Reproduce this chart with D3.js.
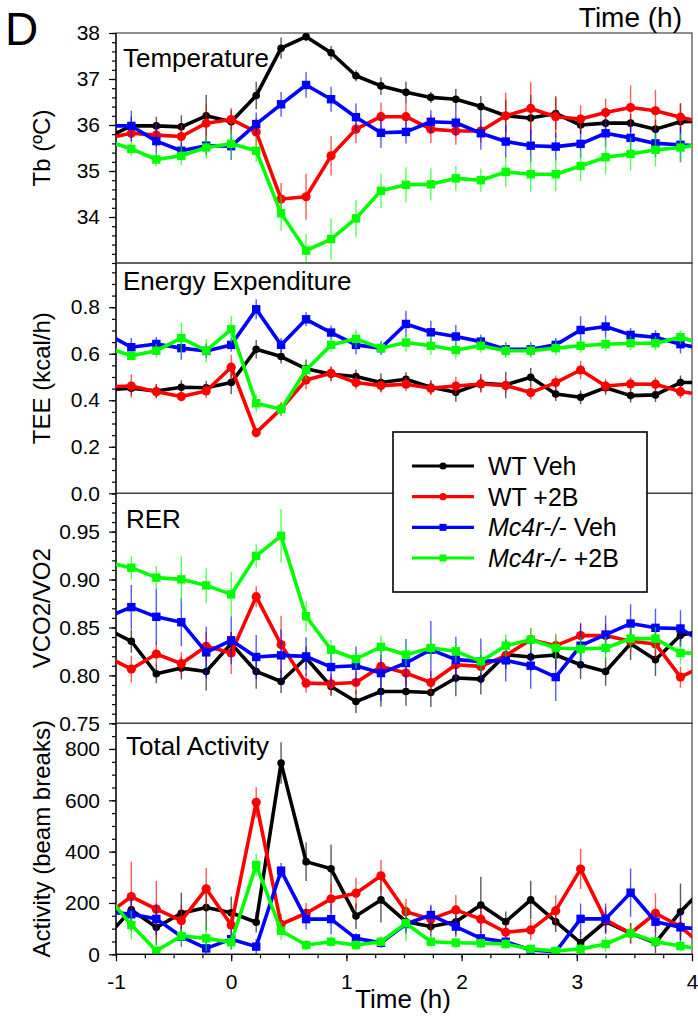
<!DOCTYPE html>
<html>
<head>
<meta charset="utf-8">
<title>Panel D</title>
<script src="https://d3js.org/d3.v7.min.js"></script>
<style>
  body { margin: 0; background: #fff; }
  text { font-family: Arial, "Liberation Sans", sans-serif; fill: #000; }
  .frame { fill: none; stroke: #444; stroke-width: 1.2; }
  .axis path { display: none; }
  .axis line { stroke: #000; stroke-width: 1.2; }
</style>
</head>
<body>
<div id="chart"></div>
<script>

// time bins (h), 13 min apart; first and last fall just outside the axis
var time = [-1.083, -0.867, -0.65, -0.433, -0.217, 0, 0.217, 0.433, 0.65, 0.867, 1.083, 1.3, 1.517,
            1.733, 1.95, 2.167, 2.383, 2.6, 2.817, 3.033, 3.25, 3.467, 3.683, 3.9, 4.117];

var groups = ["WT Veh", "WT +2B", "Mc4r-/- Veh", "Mc4r-/- +2B"];
var xTicks = [-1, 0, 1, 2, 3, 4];

// Temperature (ºC)
var tempWTVeh = [35.72, 35.98, 35.98, 35.96, 36.2, 36.07, 36.64, 37.67, 37.92, 37.57, 37.07, 36.85, 36.71,
                 36.6, 36.56, 36.4, 36.2, 36.15, 36.25, 36.0, 36.04, 36.04, 35.91, 36.07, 36.09];
var tempWT2B = [35.71, 35.82, 35.78, 35.75, 36.04, 36.12, 35.85, 34.39, 34.44, 35.33, 35.91, 36.18, 36.18,
                35.91, 35.87, 35.87, 36.2, 36.36, 36.18, 36.13, 36.27, 36.38, 36.31, 36.17, 36.04];
var tempMcVeh = [35.98, 35.98, 35.65, 35.44, 35.55, 35.54, 36.02, 36.45, 36.87, 36.56, 36.17, 35.83, 35.85,
                 36.07, 36.05, 35.82, 35.64, 35.55, 35.53, 35.59, 35.82, 35.72, 35.6, 35.57, 35.53];
var tempMc2B = [35.66, 35.48, 35.25, 35.33, 35.51, 35.59, 35.44, 34.08, 33.27, 33.52, 33.97, 34.57, 34.7,
                34.71, 34.84, 34.8, 34.98, 34.93, 34.93, 35.11, 35.3, 35.37, 35.46, 35.51, 35.6];
var tempWTVehErr = [0, 0.2, 0.2, 0.25, 0.45, 0.25, 0.3, 0.23, 0.1, 0.15, 0.12, 0.19, 0.23,
                    0.12, 0.22, 0.23, 0.35, 0.5, 0.35, 0.2, 0.2, 0.2, 0.2, 0.4, 0];
var tempWT2BErr = [0, 0.2, 0.25, 0.25, 0.4, 0.25, 0.3, 0.35, 0.5, 0.43, 0.3, 0.31, 0.3,
                   0.3, 0.3, 0.25, 0.5, 0.57, 0.45, 0.3, 0.3, 0.48, 0.45, 0.3, 0];
var tempMcVehErr = [0, 0.33, 0.35, 0.2, 0.2, 0.3, 0.25, 0.27, 0.28, 0.27, 0.3, 0.33, 0.25,
                    0.25, 0.3, 0.36, 0.35, 0.35, 0.3, 0.3, 0.3, 0.3, 0.3, 0.38, 0];
var tempMc2BErr = [0, 0.15, 0.15, 0.2, 0.25, 0.3, 0.25, 0.38, 0.36, 0.45, 0.4, 0.37, 0.38,
                   0.35, 0.27, 0.25, 0.33, 0.38, 0.37, 0.33, 0.37, 0.36, 0.36, 0.3, 0];

// Energy expenditure (kcal/h)
var teeWTVeh = [0.444, 0.452, 0.44, 0.456, 0.454, 0.476, 0.619, 0.588, 0.535, 0.512, 0.502, 0.476, 0.49,
                0.456, 0.434, 0.473, 0.466, 0.499, 0.427, 0.413, 0.454, 0.42, 0.423, 0.476, 0.476];
var teeWT2B = [0.458, 0.461, 0.437, 0.416, 0.44, 0.542, 0.261, 0.363, 0.487, 0.516, 0.476, 0.463, 0.469,
               0.452, 0.461, 0.47, 0.463, 0.433, 0.476, 0.53, 0.461, 0.47, 0.469, 0.437, 0.422];
var teeMcVeh = [0.686, 0.628, 0.642, 0.624, 0.612, 0.638, 0.791, 0.638, 0.748, 0.691, 0.638, 0.624, 0.728,
                0.692, 0.674, 0.652, 0.619, 0.619, 0.638, 0.702, 0.717, 0.681, 0.671, 0.641, 0.619];
var teeMc2B = [0.627, 0.591, 0.613, 0.667, 0.613, 0.705, 0.387, 0.361, 0.53, 0.638, 0.664, 0.624, 0.648,
               0.634, 0.616, 0.634, 0.613, 0.613, 0.624, 0.634, 0.641, 0.645, 0.645, 0.671, 0.638];
var teeWTVehErr = [0, 0.03, 0.03, 0.03, 0.03, 0.05, 0.04, 0.03, 0.04, 0.03, 0.03, 0.04, 0.03,
                   0.03, 0.04, 0.04, 0.057, 0.04, 0.03, 0.03, 0.03, 0.03, 0.03, 0.03, 0];
var teeWT2BErr = [0, 0.05, 0.03, 0.02, 0.03, 0.054, 0.02, 0.03, 0.04, 0.03, 0.03, 0.03, 0.03,
                  0.03, 0.04, 0.03, 0.03, 0.03, 0.03, 0.04, 0.03, 0.03, 0.03, 0.03, 0];
var teeMcVehErr = [0, 0.04, 0.03, 0.05, 0.03, 0.03, 0.043, 0.03, 0.03, 0.03, 0.04, 0.03, 0.057,
                   0.05, 0.05, 0.03, 0.03, 0.03, 0.03, 0.059, 0.047, 0.03, 0.03, 0.04, 0];
var teeMc2BErr = [0, 0.02, 0.03, 0.068, 0.05, 0.057, 0.04, 0.03, 0.04, 0.03, 0.04, 0.03, 0.04,
                  0.04, 0.04, 0.03, 0.03, 0.03, 0.03, 0.03, 0.03, 0.03, 0.03, 0.03, 0];

// RER (VCO2/VO2)
var rerWTVeh = [0.8486, 0.8356, 0.8017, 0.8076, 0.8041, 0.8331, 0.8041, 0.7936, 0.8181, 0.7884, 0.7727, 0.7832, 0.7832,
                0.7821, 0.7972, 0.7961, 0.8216, 0.8192, 0.8213, 0.8111, 0.8041, 0.8331, 0.8164, 0.8418, 0.8472];
var rerWT2B = [0.8196, 0.8066, 0.8223, 0.8122, 0.8303, 0.8234, 0.8821, 0.8321, 0.7919, 0.7912, 0.7926, 0.8094, 0.8024,
               0.7926, 0.8111, 0.8094, 0.8206, 0.8373, 0.831, 0.8415, 0.8415, 0.8356, 0.8328, 0.7982, 0.811];
var rerMcVeh = [0.8605, 0.8712, 0.8611, 0.8555, 0.824, 0.8366, 0.8192, 0.8209, 0.8198, 0.8087, 0.8101, 0.8024, 0.8129,
                0.8268, 0.8164, 0.8146, 0.8157, 0.8101, 0.7982, 0.831, 0.8426, 0.8541, 0.8496, 0.8489, 0.8329];
var rerMc2B = [0.918, 0.9124, 0.902, 0.9002, 0.8939, 0.8845, 0.9247, 0.9456, 0.8617, 0.8268, 0.8171, 0.8297, 0.8216,
               0.8286, 0.8251, 0.8146, 0.831, 0.8373, 0.8286, 0.8276, 0.8286, 0.8384, 0.8384, 0.8234, 0.8234];
var rerWTVehErr = [0, 0.012, 0.01, 0.012, 0.02, 0.012, 0.018, 0.012, 0.012, 0.01, 0.012, 0.016, 0.015,
                   0.015, 0.019, 0.016, 0.015, 0.015, 0.015, 0.015, 0.015, 0.017, 0.017, 0.012, 0];
var rerWT2BErr = [0, 0.014, 0.012, 0.012, 0.015, 0.022, 0.011, 0.03, 0.01, 0.01, 0.012, 0.012, 0.012,
                  0.012, 0.015, 0.012, 0.012, 0.012, 0.012, 0.012, 0.012, 0.012, 0.015, 0.011, 0];
var rerMcVehErr = [0, 0.023, 0.029, 0.025, 0.027, 0.025, 0.023, 0.027, 0.02, 0.02, 0.02, 0.029, 0.025,
                   0.03, 0.024, 0.024, 0.022, 0.024, 0.025, 0.024, 0.02, 0.02, 0.02, 0.019, 0];
var rerMc2BErr = [0, 0.012, 0.012, 0.024, 0.018, 0.023, 0.012, 0.028, 0.016, 0.01, 0.01, 0.012, 0.012,
                  0.012, 0.012, 0.012, 0.012, 0.012, 0.012, 0.012, 0.012, 0.012, 0.012, 0.012, 0];

// Total activity (beam breaks)
var actWTVeh = [67, 173, 105, 160, 182, 162, 125, 745, 361, 333, 149, 212, 127,
                108, 127, 192, 127, 212, 127, 45, 127, 82, 45, 166, 266];
var actWT2B = [152, 225, 176, 131, 255, 114, 592, 117, 160, 216, 238, 306, 166,
               137, 173, 137, 86, 95, 170, 332, 134, 82, 160, 108, 23];
var actMcVeh = [166, 156, 138, 69, 23, 59, 30, 326, 137, 137, 62, 45, 118,
                153, 108, 62, 49, 17, 10, 138, 138, 240, 127, 105, 96];
var actMc2B = [231, 114, 14, 71, 62, 47, 348, 92, 36, 49, 36, 49, 121,
               49, 45, 43, 40, 21, 13, 21, 40, 82, 49, 32, 19];
var actWTVehErr = [0, 60, 70, 80, 90, 63, 40, 81, 75, 94, 50, 88, 40,
                   40, 50, 110, 40, 75, 40, 40, 40, 40, 40, 110, 0];
var actWT2BErr = [0, 137, 110, 60, 81, 50, 59, 40, 40, 58, 60, 62, 50,
                  50, 58, 40, 30, 40, 60, 78, 50, 40, 78, 40, 0];
var actMcVehErr = [0, 60, 60, 40, 30, 40, 30, 30, 40, 60, 20, 20, 40,
                   40, 40, 30, 20, 20, 15, 60, 60, 94, 40, 60, 0];
var actMc2BErr = [0, 55, 40, 30, 50, 30, 45, 35, 20, 20, 20, 20, 70,
                  20, 20, 20, 20, 15, 15, 20, 30, 25, 20, 20, 0];

var colors = ["#000000", "#ff0000", "#0000ff", "#00ff00"];
var shapes = ["circle", "circle", "square", "square"];
var markerR = [3.8, 4.6, 4.2, 4.2];

var W = 698, H = 1018;
var left = 116, right = 692;

var svg = d3.select("#chart").append("svg")
    .attr("width", W)
    .attr("height", H);

var x = d3.scaleLinear().domain([-1, 4]).range([left, right]);

var panels = [
    { title: "Temperature", titleX: 123, titleY: 67, label: "Tb (ºC)", top: 33, bottom: 263,
      domain: [33, 38], major: [34, 35, 36, 37, 38], minorStep: 0.2, fmt: d3.format("d"),
      series: [tempWTVeh, tempWT2B, tempMcVeh, tempMc2B],
      errs: [tempWTVehErr, tempWT2BErr, tempMcVehErr, tempMc2BErr] },
    { title: "Energy Expenditure", titleX: 123, titleY: 290, label: "TEE (kcal/h)", top: 263, bottom: 493.3,
      domain: [0, 0.99], major: [0, 0.2, 0.4, 0.6, 0.8], minorStep: 0.05, fmt: d3.format(".1f"),
      series: [teeWTVeh, teeWT2B, teeMcVeh, teeMc2B],
      errs: [teeWTVehErr, teeWT2BErr, teeMcVehErr, teeMc2BErr] },
    { title: "RER", titleX: 126, titleY: 528, label: "VCO2/VO2", top: 493.3, bottom: 723.3,
      domain: [0.75, 0.99], major: [0.75, 0.8, 0.85, 0.9, 0.95], minorStep: 0.01, fmt: d3.format(".2f"),
      series: [rerWTVeh, rerWT2B, rerMcVeh, rerMc2B],
      errs: [rerWTVehErr, rerWT2BErr, rerMcVehErr, rerMc2BErr] },
    { title: "Total Activity", titleX: 126, titleY: 755, label: "Activity (beam breaks)", top: 723.3, bottom: 954.3,
      domain: [0, 900], major: [0, 200, 400, 600, 800], minorStep: 50, fmt: d3.format("d"),
      series: [actWTVeh, actWT2B, actMcVeh, actMc2B],
      errs: [actWTVehErr, actWT2BErr, actMcVehErr, actMc2BErr] }
];

panels.forEach(function(p, pi) {
    var y = d3.scaleLinear().domain(p.domain).range([p.bottom, p.top]);
    var g = svg.append("g");

    var clipId = "clip" + pi;
    svg.append("clipPath").attr("id", clipId)
      .append("rect")
        .attr("x", left).attr("y", p.top)
        .attr("width", right - left).attr("height", p.bottom - p.top);

    // minor ticks
    var n = Math.round((p.domain[1] - p.domain[0]) / p.minorStep);
    var minor = d3.range(0, n + 1).map(function(i) { return +(p.domain[0] + i * p.minorStep).toFixed(4); })
        .filter(function(v) { return v <= p.domain[1]; });
    g.append("g").attr("class", "axis")
        .attr("transform", "translate(" + left + ",0)")
        .call(d3.axisLeft(y).tickValues(minor).tickSize(4).tickFormat(""));

    // major ticks
    g.append("g").attr("class", "axis")
        .attr("transform", "translate(" + left + ",0)")
        .call(d3.axisLeft(y).tickValues(p.major).tickSize(7).tickPadding(9).tickFormat(p.fmt))
        .selectAll("text")
        .style("font-size", "21px");

    // frame
    g.append("rect").attr("class", "frame")
        .attr("x", left).attr("y", p.top)
        .attr("width", right - left).attr("height", p.bottom - p.top);
    g.append("line")
        .attr("x1", left).attr("x2", left).attr("y1", p.top).attr("y2", p.bottom)
        .attr("stroke", "#000").attr("stroke-width", 1.2);

    // y label
    g.append("text")
        .attr("transform", "translate(50," + ((p.top + p.bottom) / 2) + ") rotate(-90)")
        .attr("text-anchor", "middle")
        .style("font-size", "24px")
        .text(p.label);

    // panel title
    g.append("text")
        .attr("x", p.titleX).attr("y", p.titleY)
        .style("font-size", "26px")
        .text(p.title);

    var plot = g.append("g").attr("clip-path", "url(#" + clipId + ")");

    p.series.forEach(function(vals, si) {
        var pts = time.map(function(t, i) { return { t: t, v: vals[i], e: p.errs[si][i] }; });
        var sg = plot.append("g");

        // error bars
        sg.selectAll("line.err")
            .data(pts)
            .enter().append("line")
            .attr("class", "err")
            .attr("x1", function(d) { return x(d.t); })
            .attr("x2", function(d) { return x(d.t); })
            .attr("y1", function(d) { return y(d.v - d.e); })
            .attr("y2", function(d) { return y(d.v + d.e); })
            .attr("stroke", colors[si])
            .attr("stroke-opacity", 0.65)
            .attr("stroke-width", 1.4);

        sg.append("path")
            .datum(pts)
            .attr("fill", "none")
            .attr("stroke", colors[si])
            .attr("stroke-width", 3.6)
            .attr("stroke-linejoin", "round")
            .attr("d", d3.line().x(function(d) { return x(d.t); }).y(function(d) { return y(d.v); }));

        if (shapes[si] === "circle") {
            sg.selectAll("circle")
                .data(pts)
                .enter().append("circle")
                .attr("cx", function(d) { return x(d.t); })
                .attr("cy", function(d) { return y(d.v); })
                .attr("r", markerR[si])
                .attr("fill", colors[si]);
        } else {
            var s = markerR[si];
            sg.selectAll("rect")
                .data(pts)
                .enter().append("rect")
                .attr("x", function(d) { return x(d.t) - s; })
                .attr("y", function(d) { return y(d.v) - s; })
                .attr("width", 2 * s).attr("height", 2 * s)
                .attr("fill", colors[si]);
        }
    });

    // x axis on the bottom panel only
    if (pi === panels.length - 1) {
        var minorX = d3.range(0, 21).map(function(i) { return -1 + i * 0.25; });
        g.append("g").attr("class", "axis")
            .attr("transform", "translate(0," + p.bottom + ")")
            .call(d3.axisBottom(x).tickValues(minorX).tickSize(4).tickFormat(""));
        g.append("g").attr("class", "axis")
            .attr("transform", "translate(0," + p.bottom + ")")
            .call(d3.axisBottom(x).tickValues(xTicks).tickSize(7).tickPadding(13)
                .tickFormat(function(d) { return String(d); }))
            .selectAll("text")
            .style("font-size", "21px");
        g.append("line")
            .attr("x1", left).attr("x2", right).attr("y1", p.bottom).attr("y2", p.bottom)
            .attr("stroke", "#000").attr("stroke-width", 1.2);
    }
});

// titles outside the panels
svg.append("text").attr("x", 5).attr("y", 45).style("font-size", "46px").text("D");
svg.append("text").attr("x", 682).attr("y", 27).attr("text-anchor", "end")
    .style("font-size", "28px").text("Time (h)");
svg.append("text").attr("x", 403).attr("y", 1008).attr("text-anchor", "middle")
    .style("font-size", "26px").text("Time (h)");

// legend
var legend = svg.append("g");
legend.append("rect")
    .attr("x", 393).attr("y", 432).attr("width", 254).attr("height", 160)
    .attr("fill", "#fff").attr("stroke", "#000").attr("stroke-width", 1.6);

var legendY = d3.scalePoint().domain(groups).range([466, 558]);
var items = legend.selectAll("g.item")
    .data(groups)
    .enter().append("g")
    .attr("class", "item")
    .attr("transform", function(d) { return "translate(0," + legendY(d) + ")"; });

items.append("line")
    .attr("x1", 412).attr("x2", 474)
    .attr("stroke", function(d, i) { return colors[i]; })
    .attr("stroke-width", 3.2);
items.each(function(d, i) {
    var it = d3.select(this);
    if (shapes[i] === "circle") {
        it.append("circle").attr("cx", 443).attr("cy", 0).attr("r", 3.6).attr("fill", colors[i]);
    } else {
        it.append("rect").attr("x", 439.5).attr("y", -3.5).attr("width", 7).attr("height", 7).attr("fill", colors[i]);
    }
    var t = it.append("text").attr("x", 488).attr("dy", "0.36em").style("font-size", "25px");
    if (d.indexOf("Mc4r") === 0) {
        t.append("tspan").style("font-style", "italic").text("Mc4r-/-");
        t.append("tspan").text(d.replace("Mc4r-/-", ""));
    } else {
        t.text(d);
    }
});

</script>
</body>
</html>
